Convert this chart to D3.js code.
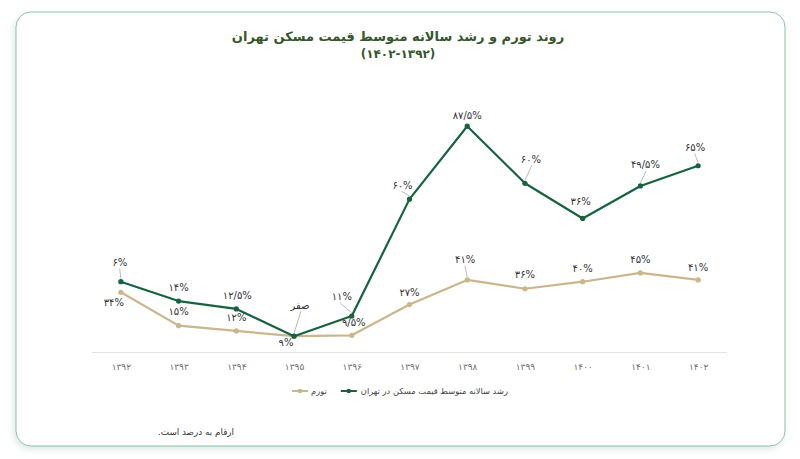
<!DOCTYPE html>
<html><head><meta charset="utf-8">
<script src="https://cdn.jsdelivr.net/npm/d3@7/dist/d3.min.js"></script>
<style>
html,body{margin:0;padding:0;background:#fff;}
svg{display:block;}
text{font-family:"DejaVu Sans",sans-serif;}
</style></head>
<body>
<script>
// ---- data ----
const years = ["۱۳۹۲","۱۳۹۳","۱۳۹۴","۱۳۹۵","۱۳۹۶","۱۳۹۷","۱۳۹۸","۱۳۹۹","۱۴۰۰","۱۴۰۱","۱۴۰۲"];
const inflation = [34, 15, 12, 9, 9.5, 27, 41, 36, 40, 45, 41];
const housing = [6, 14, 12.5, 0, 11, 60, 87.5, 60, 36, 49.5, 65];
const seriesNames = ["تورم", "رشد سالانه متوسط قیمت مسکن در تهران"];
const title1 = "روند تورم و رشد سالانه متوسط قیمت مسکن تهران";
const title2 = "(۱۴۰۲-۱۳۹۲)";
const footnote = "ارقام به درصد است.";

// ---- layout (label offsets relative to points) ----
const housingLabelOff = [[-1,-19,1],[0,-14,0],[1,-13,0],[6,-31,1],[-10,-19,1],[-7,-14,1],[0,-11,0],[6,-24,1],[-2,-17,0],[5,-21,1],[-3,-18,1]];
const inflLabelOff = [[-7,10,0],[0,-14,0],[0,-13,0],[-8,6,0],[2,-13,0],[0,-12,0],[-2,-20,1],[0,-14,0],[0,-13,0],[0,-13,0],[0,-12,0]];

const W = 800, H = 459;
const green = "#17623f", tan = "#c9b68c";
const svg = d3.select("body").append("svg").attr("width", W).attr("height", H);

const defs = svg.append("defs");
const f = defs.append("filter").attr("id","sh").attr("x","-5%").attr("y","-5%").attr("width","110%").attr("height","115%");
f.append("feDropShadow").attr("dx",-2).attr("dy",3).attr("stdDeviation",3).attr("flood-color","#7aa88f").attr("flood-opacity",0.25);

svg.append("rect").attr("x",16).attr("y",12).attr("width",769).attr("height",434).attr("rx",15)
  .attr("fill","#fff").attr("stroke","#8cc3a5").attr("stroke-width",1).attr("filter","url(#sh)");

const toFa = s => String(s).replace(/[0-9]/g, d => "۰۱۲۳۴۵۶۷۸۹"[+d]).replace(".", "/");
const fmt = v => v === 0 ? "صفر" : toFa(v) + "%";

const x = d3.scalePoint().domain(years).range([92, 727]).padding(0.5);
const y = d3.scaleLinear().domain([0, 140]).range([352, 106]);

// stacked
const rows = years.map((yr, i) => ({year: yr, inf: inflation[i], hou: housing[i]}));
const stack = d3.stack().keys(["inf","hou"])(rows);

// axis
const ax = svg.append("g").attr("transform","translate(0,352)")
  .call(d3.axisBottom(x).tickSize(0).tickPadding(12));
ax.select(".domain").attr("stroke","#e3e3e3").attr("d","M92,0.5H727");
ax.selectAll("text").attr("fill","#6f6f6f").attr("font-size",9).style("font-family","DejaVu Sans");

const line = d3.line().x(d => x(d.data.year)).y(d => y(d[1]));

const layers = [
  {s: stack[0], color: tan, vals: inflation, off: inflLabelOff},
  {s: stack[1], color: green, vals: housing, off: housingLabelOff}
];

layers.forEach(L => {
  svg.append("path").datum(L.s).attr("d", line).attr("fill","none")
    .attr("stroke", L.color).attr("stroke-width", 2.2).attr("stroke-linejoin","round");
  svg.selectAll(null).data(L.s).enter().append("circle")
    .attr("cx", d => x(d.data.year)).attr("cy", d => y(d[1])).attr("r", 2.6).attr("fill", L.color);
});

layers.forEach(L => {
  L.s.forEach((d, i) => {
    const px = x(d.data.year), py = y(d[1]);
    const [dx, dy, lead] = L.off[i];
    const lx = px + dx, ly = py + dy;
    if (lead) {
      const sy = ly + (dy < 0 ? 6 : -6);
      const ey = py + (dy < 0 ? -3 : 3);
      svg.append("line").attr("x1", lx + dx*0.15).attr("y1", sy).attr("x2", px).attr("y2", ey)
        .attr("stroke","#a8a8a8").attr("stroke-width",0.8);
    }
    svg.append("text").attr("x", lx).attr("y", ly).attr("text-anchor","middle")
      .attr("dominant-baseline","central").attr("font-size",10).attr("fill","#333")
      .attr("direction", L.vals[i] === 0 ? "rtl" : "ltr")
      .text(fmt(L.vals[i]));
  });
});

// title
svg.append("text").attr("x",398).attr("y",41).attr("text-anchor","middle").attr("direction","rtl")
  .attr("font-size",13).attr("font-weight","bold").attr("fill","#34562b").text(title1);
svg.append("text").attr("x",398).attr("y",58).attr("text-anchor","middle").attr("direction","ltr")
  .attr("font-size",12).attr("font-weight","bold").attr("fill","#34562b").text(title2);

// legend
const lg = svg.append("g");
const items = [{name: seriesNames[1], color: green}, {name: seriesNames[0], color: tan}];
const fs = 8.3;
const widths = items.map(it => {
  const t = lg.append("text").attr("font-size",fs).attr("direction","rtl").text(it.name);
  const w = t.node().getComputedTextLength(); t.remove(); return w;
});
const total = widths[0] + 4 + 16 + 14 + widths[1] + 3 + 16;
let cur = 400 + total/2;
const ly0 = 391;
items.forEach((it, i) => {
  lg.append("text").attr("x", cur - widths[i]/2).attr("y", ly0).attr("text-anchor","middle")
    .attr("dominant-baseline","central").attr("direction","rtl").attr("font-size",fs).attr("fill","#444").text(it.name);
  cur -= widths[i] + (i === 0 ? 4 : 3);
  lg.append("line").attr("x1", cur - 16).attr("x2", cur).attr("y1", ly0).attr("y2", ly0)
    .attr("stroke", it.color).attr("stroke-width", 2);
  lg.append("circle").attr("cx", cur - 8).attr("cy", ly0).attr("r", 2.3).attr("fill", it.color);
  cur -= 16 + 14;
});

// footnote
svg.append("text").attr("x",196).attr("y",432).attr("text-anchor","middle").attr("direction","rtl")
  .attr("dominant-baseline","central").attr("font-size",8.8).attr("fill","#333").text(footnote);
</script>
</body></html>
